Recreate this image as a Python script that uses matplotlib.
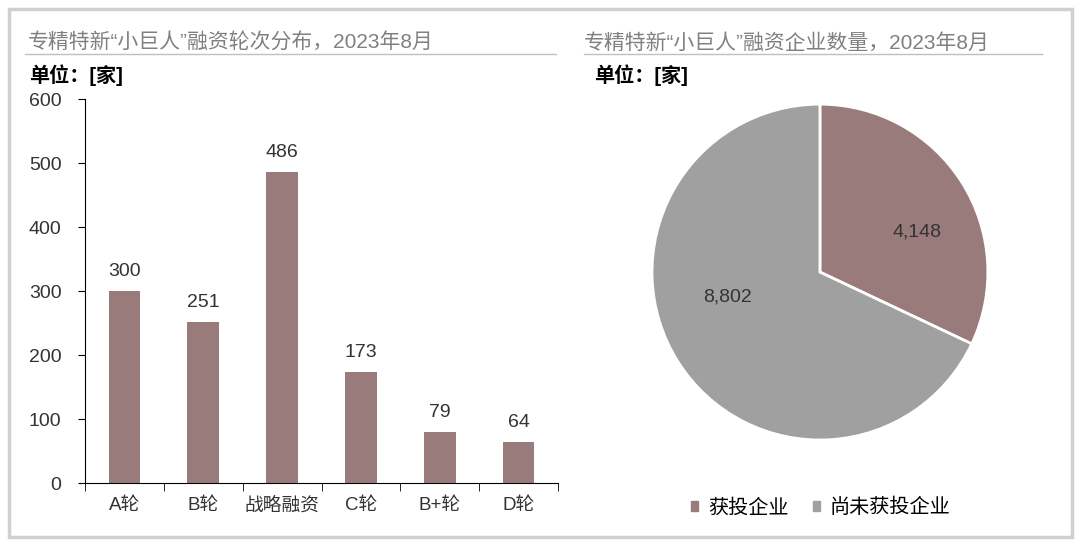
import numpy as np
import matplotlib
matplotlib.use('Agg')
import matplotlib.pyplot as plt
from matplotlib.patches import Rectangle
from matplotlib.lines import Line2D

plt.rcParams['font.family'] = ['Liberation Sans', 'Noto Sans CJK SC', 'DejaVu Sans']

#data for the bar chart
rounds = ['A轮', 'B轮', '战略融资', 'C轮', 'B+轮', 'D轮']
round_counts = [300, 251, 486, 173, 79, 64]

#data for the pie chart
pie_labels = ['获投企业', '尚未获投企业']
pie_values = [4148, 8802]

bar_color = '#9a7b7b'
grey = '#a0a0a0'
title_color = '#808080'

fig = plt.figure(figsize=(10.8, 5.47), dpi=100)
fig.patch.set_facecolor('white')

#card border with a light shadow
fig.patches.append(Rectangle((0.008, 0.018), 0.985, 0.965, transform=fig.transFigure,
                             fill=False, edgecolor='#d0d0d0', linewidth=2.5))

#titles and underlines
fig.text(0.026, 0.922, '专精特新“小巨人”融资轮次分布，2023年8月', fontsize=15,
         color=title_color, va='center', ha='left')
fig.add_artist(Line2D([0.023, 0.515], [0.902, 0.902], transform=fig.transFigure,
                      color='#c0c0c0', linewidth=1))
fig.text(0.541, 0.922, '专精特新“小巨人”融资企业数量，2023年8月', fontsize=15,
         color=title_color, va='center', ha='left')
fig.add_artist(Line2D([0.541, 0.965], [0.902, 0.902], transform=fig.transFigure,
                      color='#c0c0c0', linewidth=1))

fig.text(0.027, 0.862, '单位：[家]', fontsize=14.5, fontweight='bold', va='center', ha='left')
fig.text(0.550, 0.862, '单位：[家]', fontsize=14.5, fontweight='bold', va='center', ha='left')

#bar chart of financing rounds
ax1 = fig.add_axes([0.0787, 0.117, 0.438, 0.702])
x = np.arange(len(rounds))
bars = ax1.bar(x, round_counts, width=0.4, color=bar_color)
for b, v in zip(bars, round_counts):
    ax1.annotate(str(v), (b.get_x() + b.get_width() / 2, v), xytext=(0, 8),
                 textcoords='offset points', ha='center', va='bottom',
                 fontsize=14, color='#333333')
ax1.set_xlim(-0.5, len(rounds) - 0.5)
ax1.set_ylim(0, 600)
ax1.set_yticks(np.arange(0, 601, 100))
ax1.set_xticks(x)
ax1.set_xticklabels(rounds)
ax1.set_xticks(np.arange(-0.5, len(rounds), 1), minor=True)
ax1.tick_params(axis='x', which='major', length=0, pad=10, labelsize=13.5, labelcolor='#333333')
ax1.tick_params(axis='x', which='minor', length=6, direction='out', color='black')
ax1.tick_params(axis='y', length=5, direction='out', labelsize=14, labelcolor='#333333', pad=12)
for s in ['top', 'right']:
    ax1.spines[s].set_visible(False)
ax1.spines['left'].set_color('black')
ax1.spines['bottom'].set_color('black')

#pie chart of funded vs unfunded companies
ax2 = fig.add_axes([0.6037, 0.1956, 0.311, 0.614])
wedges, _ = ax2.pie(pie_values, colors=[bar_color, grey], startangle=90, counterclock=False,
                    wedgeprops=dict(edgecolor='white', linewidth=2))
ax2.set_xlim(-1, 1)
ax2.set_ylim(-1, 1)
ax2.set_aspect('equal')
label_pos = [(0.58, 0.24), (-0.55, -0.15)]
for (px, py), v in zip(label_pos, pie_values):
    ax2.text(px, py, f'{v:,}', ha='center', va='center', fontsize=14, color='#333333')

handles = [Rectangle((0, 0), 1, 1, color=c) for c in [bar_color, grey]]
fig.legend(handles, pie_labels, loc='center', bbox_to_anchor=(0.76, 0.072), ncol=2,
           frameon=False, fontsize=14.5, handlelength=0.35, handleheight=0.35,
           handletextpad=0.5, columnspacing=1.2)

fig.savefig('out.png', dpi=100, facecolor='white')
